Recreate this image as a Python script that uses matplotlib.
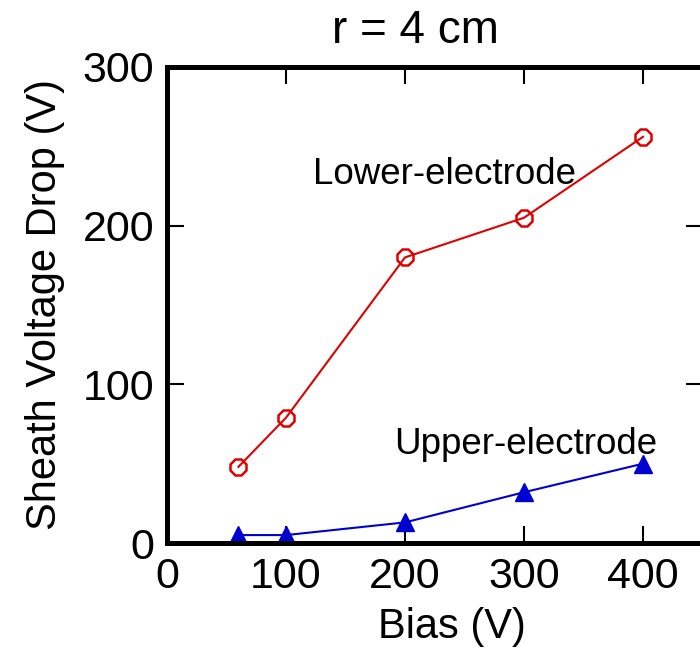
import matplotlib
matplotlib.use("Agg")
import matplotlib.pyplot as plt

plt.rcParams['font.family'] = ['Liberation Sans', 'DejaVu Sans']

bias = [60, 100, 200, 300, 400]
lower_drop = [48, 79, 180, 205, 256]
upper_drop = [5, 5, 13, 32, 50]
x_ticks = [0, 100, 200, 300, 400]
y_ticks = [0, 100, 200, 300]

fig = plt.figure(figsize=(7.0, 6.49), dpi=100)
ax = fig.add_axes([0.2386, 0.1633, 0.765, 0.7335])

ax.plot(bias, lower_drop, color='#e00000', lw=1.5, marker='8', ms=12,
        mfc='none', mec='#e00000', mew=1.8)
ax.plot(bias, upper_drop, color='#0000d0', lw=1.5, marker='^', ms=13,
        mfc='#0000d0', mec='#0000d0')

ax.set_xlim(0, 450)
ax.set_ylim(0, 300)
ax.set_xticks(x_ticks)
ax.set_yticks(y_ticks)

for s in ax.spines.values():
    s.set_linewidth(3.6)
ax.tick_params(direction='in', length=12, width=1.5, labelsize=31,
               top=True, right=True)
ax.tick_params(axis='x', pad=10)
ax.tick_params(axis='y', pad=9)

ax.set_xlabel('Bias (V)', fontsize=30, labelpad=7)
ax.xaxis.label.set_x(0.532)
ax.set_ylabel('Sheath Voltage Drop (V)', fontsize=30, labelpad=13)
title = ax.set_title('r = 4 cm', fontsize=33, pad=17)
title.set_x(0.463)

ax.text(233, 232, 'Lower-electrode', fontsize=26.5, ha='center', va='center')
ax.text(301, 62, 'Upper-electrode', fontsize=26.5, ha='center', va='center')

fig.savefig('out.png', dpi=100)
